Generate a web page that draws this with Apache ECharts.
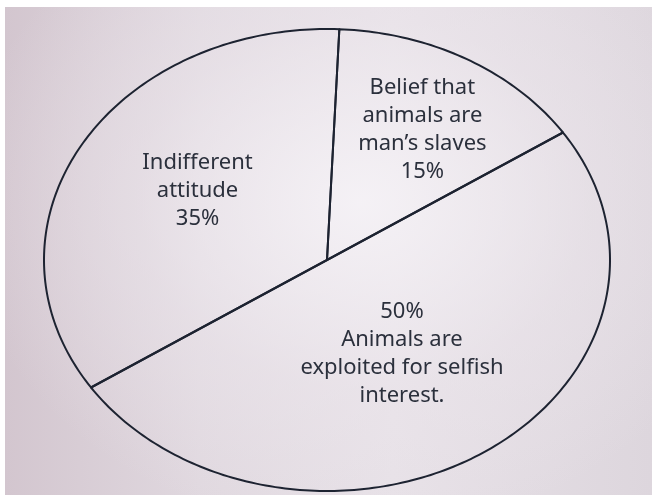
<!DOCTYPE html>
<html>
<head>
<meta charset="utf-8">
<script src="https://cdn.jsdelivr.net/npm/echarts@6/dist/echarts.min.js"></script>
<style>
    html, body { margin: 0; padding: 0; background: #ffffff; }
    #wrap { position: relative; width: 652px; height: 502px; overflow: hidden; }
    #paper {
        position: absolute; left: 5px; top: 7px; width: 647px; height: 488px;
        background:
            radial-gradient(ellipse at 55% 40%, rgba(246,243,247,0.9) 0%, rgba(236,230,236,0.5) 45%, rgba(214,204,212,0) 80%),
            linear-gradient(90deg, #d3c6cf 0%, #e0d8df 30%, #e7e1e7 60%, #ddd6dd 100%);
    }
    #chart { position: absolute; left: 0; top: 0; width: 652px; height: 502px; }
</style>
</head>
<body>
<div id="wrap">
    <div id="paper"></div>
    <div id="chart"></div>
</div>
<script>
    // slices, clockwise from near the top
    var labels = [
        'Belief that\nanimals are\nman\u2019s slaves\n15%',
        '50%\nAnimals are\nexploited for selfish\ninterest.',
        'Indifferent\nattitude\n35%'
    ];
    var values = [15, 50, 35];

    // layout of the (elliptical) pie
    var center = [327, 260];
    var radiusX = 283;
    var radiusY = 231;
    var startDeg = 2.5;               // clockwise from 12 o'clock
    var labelRadius = [0.67, 0.48, 0.55];
    var labelShift = [[2, 4], [0, 1], [6, -7]];

    var total = values.reduce(function (a, b) { return a + b; }, 0);

    function pointAt(deg, f) {
        var a = deg * Math.PI / 180;
        return [center[0] + radiusX * f * Math.sin(a), center[1] - radiusY * f * Math.cos(a)];
    }

    function renderSlice(params, api) {
        var i = params.dataIndex;
        var before = 0;
        for (var k = 0; k < i; k++) before += values[k];
        var from = startDeg + 360 * before / total;
        var to = from + 360 * api.value(0) / total;

        var pts = [center.slice()];
        for (var d = from; d < to; d += 1) pts.push(pointAt(d, 1));
        pts.push(pointAt(to, 1));

        var mid = pointAt((from + to) / 2, labelRadius[i]);

        return {
            type: 'group',
            children: [{
                type: 'polygon',
                shape: { points: pts },
                style: { fill: 'rgba(0,0,0,0)', stroke: '#1d2331', lineWidth: 2, lineJoin: 'round' }
            }, {
                type: 'text',
                x: mid[0] + labelShift[i][0],
                y: mid[1] + labelShift[i][1],
                style: {
                    text: labels[i],
                    fill: '#2b303c',
                    font: '22px "Noto Sans"',
                    lineHeight: 28,
                    align: 'center',
                    verticalAlign: 'middle'
                }
            }]
        };
    }

    var myChart = echarts.init(document.getElementById('chart'), null, { renderer: 'canvas' });
    var option = {
        backgroundColor: 'transparent',
        animation: false,
        series: [
            {
                type: 'custom',
                coordinateSystem: 'none',
                renderItem: renderSlice,
                data: values.map(function (v) { return [v]; })
            }
        ]
    };

    myChart.setOption(option);
</script>
</body>
</html>
